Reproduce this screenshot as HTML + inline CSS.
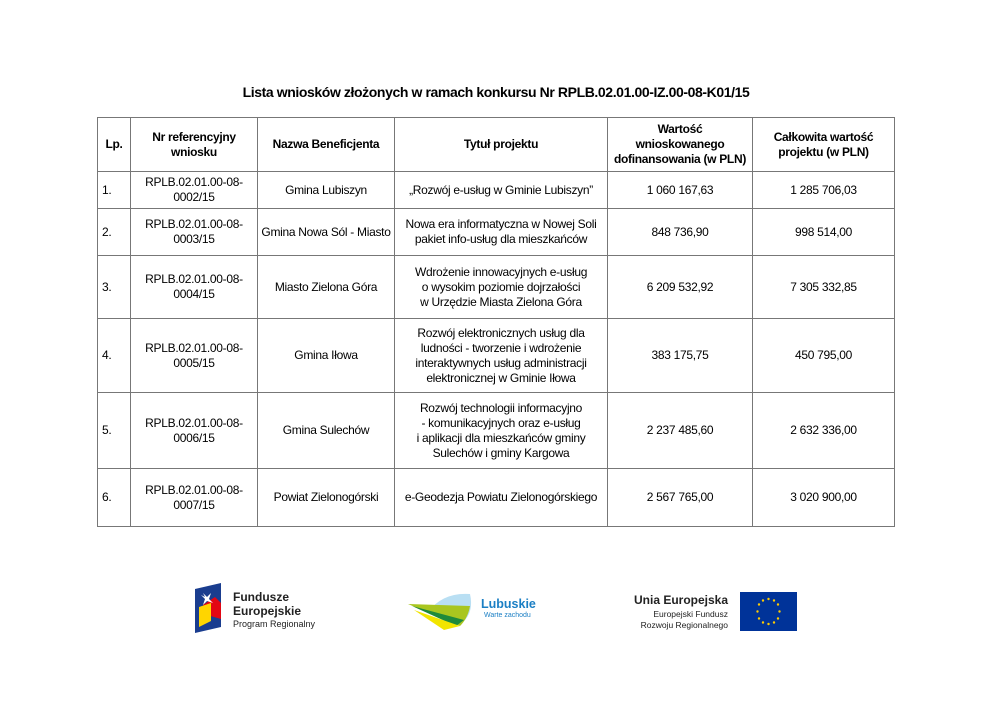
<!DOCTYPE html>
<html><head><meta charset="utf-8"><style>
body{margin:0;width:992px;height:701px;background:#fff;font-family:"Liberation Sans",Arial,sans-serif;color:#000;position:relative;overflow:hidden}
.t{position:absolute;left:0;width:992px;top:84px;text-align:center;font-weight:bold;font-size:14px;letter-spacing:-0.4px}
table{position:absolute;left:97px;top:117px;border-collapse:collapse;font-size:12px;letter-spacing:-0.3px}
td{border:1px solid #777;text-align:center;vertical-align:middle;padding:0 2px;line-height:15px}
thead td{font-weight:bold}
td.l{text-align:left;padding-left:4px}
.lg{position:absolute;font-family:"Liberation Sans",sans-serif;white-space:nowrap}
</style></head><body>
<div class="t">Lista wniosków złożonych w ramach konkursu Nr RPLB.02.01.00-IZ.00-08-K01/15</div>
<table>
<colgroup><col style="width:33px"><col style="width:127px"><col style="width:137px"><col style="width:213px"><col style="width:145px"><col style="width:142px"></colgroup>
<thead><tr style="height:54px"><td>Lp.</td><td>Nr referencyjny<br>wniosku</td><td>Nazwa Beneficjenta</td><td>Tytuł projektu</td><td>Wartość<br>wnioskowanego<br>dofinansowania (w PLN)</td><td>Całkowita wartość<br>projektu (w PLN)</td></tr></thead>
<tbody>
<tr style="height:37px"><td class="l">1.</td><td>RPLB.02.01.00-08-<br>0002/15</td><td>Gmina Lubiszyn</td><td>„Rozwój e-usług w Gminie Lubiszyn”</td><td>1 060 167,63</td><td>1 285 706,03</td></tr>
<tr style="height:47px"><td class="l">2.</td><td>RPLB.02.01.00-08-<br>0003/15</td><td>Gmina Nowa Sól - Miasto</td><td>Nowa era informatyczna w Nowej Soli<br>pakiet info-usług dla mieszkańców</td><td>848 736,90</td><td>998 514,00</td></tr>
<tr style="height:63px"><td class="l">3.</td><td>RPLB.02.01.00-08-<br>0004/15</td><td>Miasto Zielona Góra</td><td>Wdrożenie innowacyjnych e-usług<br>o wysokim poziomie dojrzałości<br>w Urzędzie Miasta Zielona Góra</td><td>6 209 532,92</td><td>7 305 332,85</td></tr>
<tr style="height:74px"><td class="l">4.</td><td>RPLB.02.01.00-08-<br>0005/15</td><td>Gmina Iłowa</td><td>Rozwój elektronicznych usług dla<br>ludności - tworzenie i wdrożenie<br>interaktywnych usług administracji<br>elektronicznej w Gminie Iłowa</td><td>383 175,75</td><td>450 795,00</td></tr>
<tr style="height:76px"><td class="l">5.</td><td>RPLB.02.01.00-08-<br>0006/15</td><td>Gmina Sulechów</td><td>Rozwój technologii informacyjno<br>- komunikacyjnych oraz e-usług<br>i aplikacji dla mieszkańców gminy<br>Sulechów i gminy Kargowa</td><td>2 237 485,60</td><td>2 632 336,00</td></tr>
<tr style="height:58px"><td class="l">6.</td><td>RPLB.02.01.00-08-<br>0007/15</td><td>Powiat Zielonogórski</td><td>e-Geodezja Powiatu Zielonogórskiego</td><td>2 567 765,00</td><td>3 020 900,00</td></tr>
</tbody></table>

<svg class="lg" style="left:195px;top:583px" width="30" height="50"><polygon points="0,6 26,0 26,44 0,50" fill="#1a3d8f"/><polygon points="8,22 20,14 26,20 26,36 12,32" fill="#e30613"/><polygon points="4,24 16,20 16,38 4,44" fill="#ffd500"/><polygon points="8,10 12,14 16,10 14,16 18,20 12,18 8,22 10,16 6,12 10,14" fill="#fff"/></svg>
<div class="lg" style="left:233px;top:590px;font-size:12px;font-weight:bold;line-height:14px;color:#222">Fundusze<br>Europejskie</div>
<div class="lg" style="left:233px;top:619px;font-size:9px;color:#222">Program Regionalny</div>

<svg class="lg" style="left:408px;top:592px" width="70" height="40"><path d="M20 20 Q35 0 62 2 Q66 20 55 30 Z" fill="#b9dff3"/><path d="M0 12 L62 14 Q60 26 52 34 Z" fill="#a9c61f"/><path d="M4 14 L56 28 L48 34 Z" fill="#1f8a3b"/><path d="M6 18 L52 34 L36 38 Z" fill="#f2e500"/></svg>
<div class="lg" style="left:481px;top:597px;font-size:12.5px;font-weight:bold;color:#1b7fc4">Lubuskie</div>
<div class="lg" style="left:484px;top:612px;font-size:7px;color:#1b7fc4">Warte zachodu</div>

<div class="lg" style="left:634px;top:593px;font-size:12px;font-weight:bold;color:#222">Unia Europejska</div>
<div class="lg" style="left:628px;top:609px;font-size:8.5px;line-height:11px;color:#222;text-align:right;width:100px">Europejski Fundusz<br>Rozwoju Regionalnego</div>
<svg class="lg" style="left:740px;top:592px" width="57" height="39"><rect width="57" height="39" fill="#003399"/><g fill="#ffcc00">
<circle cx="28.5" cy="7" r="1.2"/><circle cx="34" cy="8.5" r="1.2"/><circle cx="38" cy="12.5" r="1.2"/><circle cx="39.5" cy="19.5" r="1.2"/><circle cx="38" cy="26.5" r="1.2"/><circle cx="34" cy="30.5" r="1.2"/><circle cx="28.5" cy="32" r="1.2"/><circle cx="23" cy="30.5" r="1.2"/><circle cx="19" cy="26.5" r="1.2"/><circle cx="17.5" cy="19.5" r="1.2"/><circle cx="19" cy="12.5" r="1.2"/><circle cx="23" cy="8.5" r="1.2"/></g></svg>
</body></html>
